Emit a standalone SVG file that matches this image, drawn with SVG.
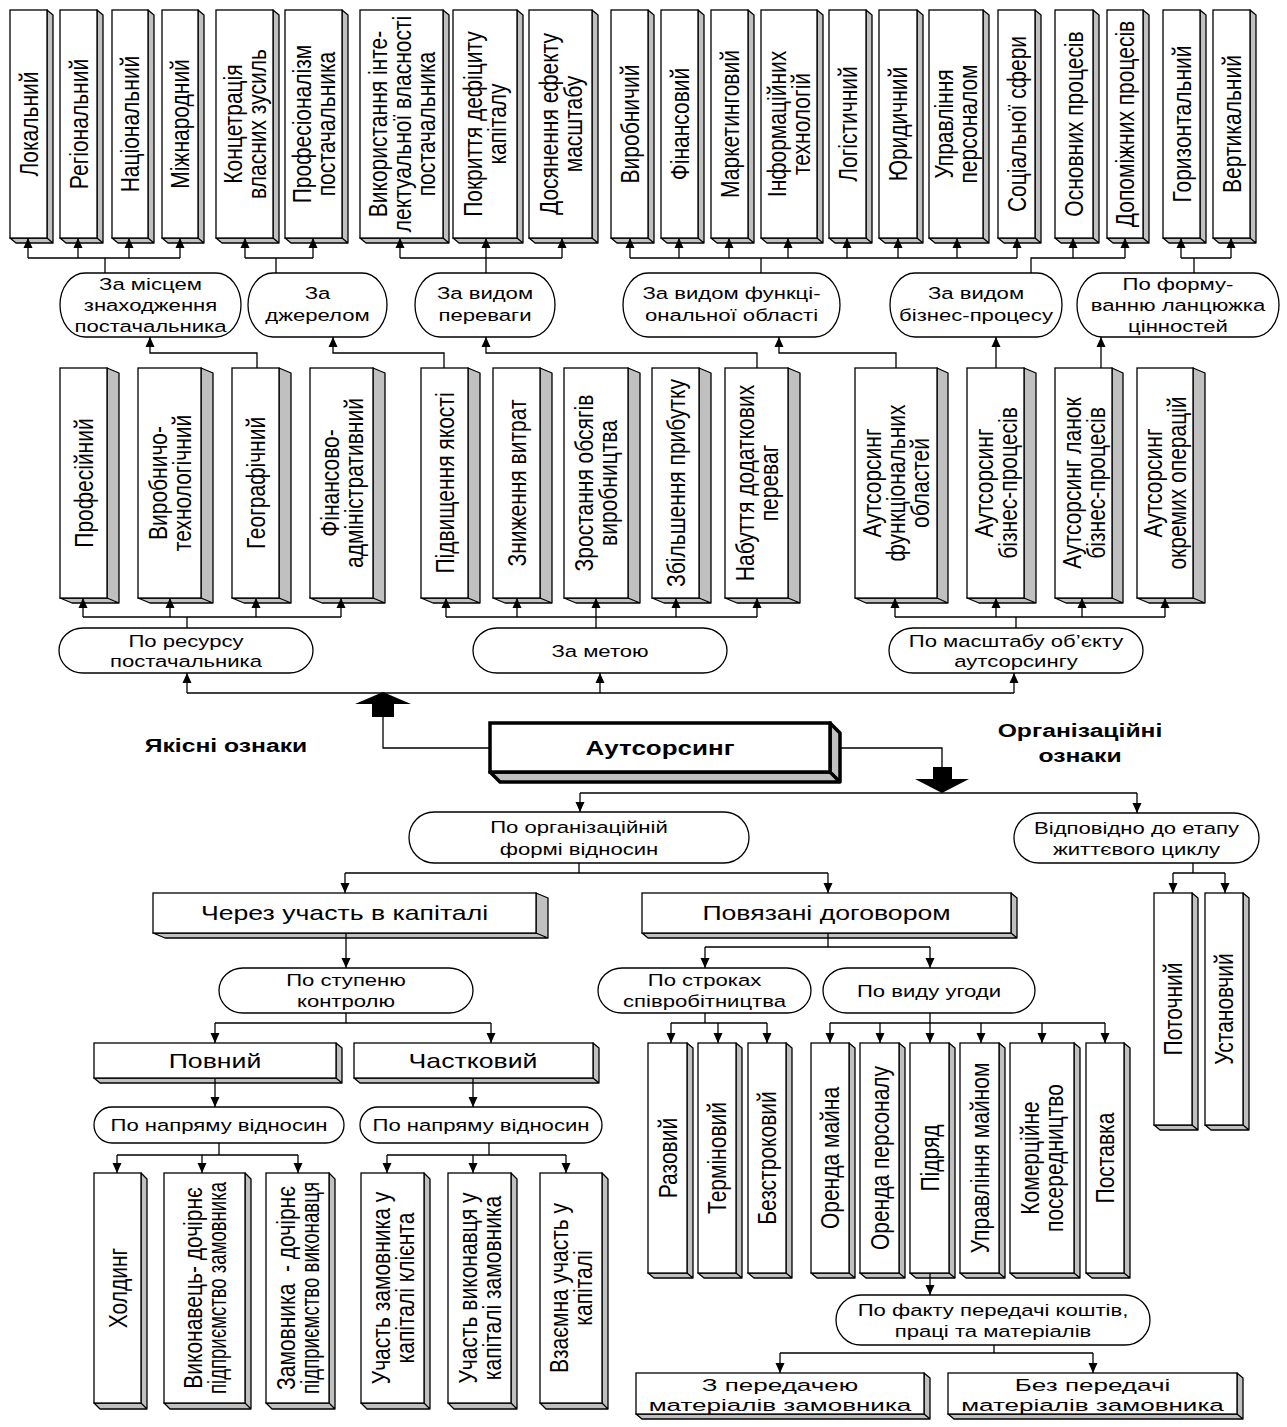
<svg xmlns="http://www.w3.org/2000/svg" width="1287" height="1427" viewBox="0 0 1287 1427">
<defs>
<marker id="ah" viewBox="0 0 10 10" refX="10" refY="5" markerWidth="10" markerHeight="10" markerUnits="userSpaceOnUse" orient="auto"><path d="M0,0.5L10,5L0,9.5z" fill="#000"/></marker>
<style>
.f{fill:#fff;stroke:#000;stroke-width:1.3}
.g{fill:#c0c0c0;stroke:#000;stroke-width:1.3;stroke-linejoin:round}
.e{fill:#fff;stroke:#000;stroke-width:1.3}
.c{fill:none;stroke:#000;stroke-width:1.3}
.a{marker-end:url(#ah)}
text{font-family:"Liberation Sans",Arial,sans-serif;fill:#000}
.r{font-size:21px;text-anchor:middle}
.h{text-anchor:middle;font-size:17px}
.b{text-anchor:middle;font-size:20.5px}
.bb{text-anchor:middle;font-size:19px;font-weight:bold}
.m{text-anchor:middle;font-size:16.8px}
</style>
</defs>
<rect width="1287" height="1427" fill="#fff"/>

<!-- TOP ROW -->
<g id="n-lokalnyi"><path class="g" d="M47,238v-228l6,5v228h-37l-6,-5zl6,5"/><rect class="f" x="10" y="10" width="37" height="228"/><g transform="translate(28.5,124) scale(1.2,1) rotate(-90)"><text class="r" y="7.6">Локальний</text></g></g>
<g id="n-regionalnyi"><path class="g" d="M97,238v-228l6,5v228h-37l-6,-5zl6,5"/><rect class="f" x="60" y="10" width="37" height="228"/><g transform="translate(78.5,124) scale(1.2,1) rotate(-90)"><text class="r" y="7.6">Регіональний</text></g></g>
<g id="n-natsionalnyi"><path class="g" d="M148,238v-228l6,5v228h-36l-6,-5zl6,5"/><rect class="f" x="112" y="10" width="36" height="228"/><g transform="translate(130,124) scale(1.2,1) rotate(-90)"><text class="r" y="7.6">Національний</text></g></g>
<g id="n-mizhnarodnyi"><path class="g" d="M198,238v-228l6,5v228h-36l-6,-5zl6,5"/><rect class="f" x="162" y="10" width="36" height="228"/><g transform="translate(180,124) scale(1.2,1) rotate(-90)"><text class="r" y="7.6">Міжнародний</text></g></g>
<g id="n-kontsentratsiia"><path class="g" d="M273,238v-228l6,5v228h-57l-6,-5zl6,5"/><rect class="f" x="216" y="10" width="57" height="228"/><g transform="translate(244.5,124) scale(1.2,1) rotate(-90)"><text class="r"><tspan x="0" y="-2.4">Концетрація</tspan><tspan x="0" y="17.6">власних зусиль</tspan></text></g></g>
<g id="n-profesionalizm"><path class="g" d="M342,238v-228l6,5v228h-57l-6,-5zl6,5"/><rect class="f" x="285" y="10" width="57" height="228"/><g transform="translate(313.5,124) scale(1.2,1) rotate(-90)"><text class="r"><tspan x="0" y="-2.4">Професіоналізм</tspan><tspan x="0" y="17.6">постачальника</tspan></text></g></g>
<g id="n-intelekt"><path class="g" d="M443,238v-228l6,5v228h-83l-6,-5zl6,5"/><rect class="f" x="360" y="10" width="83" height="228"/><g transform="translate(401.5,124) scale(1.2,1) rotate(-90)"><text class="r"><tspan x="0" y="-12.4">Використання інте-</tspan><tspan x="0" y="7.6">лектуальної власності</tspan><tspan x="0" y="27.6">постачальника</tspan></text></g></g>
<g id="n-pokryttia"><path class="g" d="M517,238v-228l6,5v228h-64l-6,-5zl6,5"/><rect class="f" x="453" y="10" width="64" height="228"/><g transform="translate(485,124) scale(1.2,1) rotate(-90)"><text class="r"><tspan x="0" y="-2.4">Покриття дефіциту</tspan><tspan x="0" y="17.6">капіталу</tspan></text></g></g>
<g id="n-masshtab"><path class="g" d="M592,238v-228l6,5v228h-63l-6,-5zl6,5"/><rect class="f" x="529" y="10" width="63" height="228"/><g transform="translate(560.5,124) scale(1.2,1) rotate(-90)"><text class="r"><tspan x="0" y="-2.4">Досянення ефекту</tspan><tspan x="0" y="17.6">масштабу</tspan></text></g></g>
<g id="n-vyrobnychyi"><path class="g" d="M648,238v-228l6,5v228h-37l-6,-5zl6,5"/><rect class="f" x="611" y="10" width="37" height="228"/><g transform="translate(629.5,124) scale(1.2,1) rotate(-90)"><text class="r" y="7.6">Виробничий</text></g></g>
<g id="n-finansovyi"><path class="g" d="M698,238v-228l6,5v228h-37l-6,-5zl6,5"/><rect class="f" x="661" y="10" width="37" height="228"/><g transform="translate(679.5,124) scale(1.2,1) rotate(-90)"><text class="r" y="7.6">Фінансовий</text></g></g>
<g id="n-marketynhovyi"><path class="g" d="M748,238v-228l6,5v228h-37l-6,-5zl6,5"/><rect class="f" x="711" y="10" width="37" height="228"/><g transform="translate(729.5,124) scale(1.2,1) rotate(-90)"><text class="r" y="7.6">Маркетинговий</text></g></g>
<g id="n-it"><path class="g" d="M817,238v-228l6,5v228h-56l-6,-5zl6,5"/><rect class="f" x="761" y="10" width="56" height="228"/><g transform="translate(789,124) scale(1.2,1) rotate(-90)"><text class="r"><tspan x="0" y="-2.4">Інформаційних</tspan><tspan x="0" y="17.6">технологій</tspan></text></g></g>
<g id="n-lohistychnyi"><path class="g" d="M866,238v-228l6,5v228h-37l-6,-5zl6,5"/><rect class="f" x="829" y="10" width="37" height="228"/><g transform="translate(847.5,124) scale(1.2,1) rotate(-90)"><text class="r" y="7.6">Логістичний</text></g></g>
<g id="n-yurydychnyi"><path class="g" d="M917,238v-228l6,5v228h-38l-6,-5zl6,5"/><rect class="f" x="879" y="10" width="38" height="228"/><g transform="translate(898,124) scale(1.2,1) rotate(-90)"><text class="r" y="7.6">Юридичний</text></g></g>
<g id="n-personal"><path class="g" d="M983,238v-228l6,5v228h-54l-6,-5zl6,5"/><rect class="f" x="929" y="10" width="54" height="228"/><g transform="translate(956,124) scale(1.2,1) rotate(-90)"><text class="r"><tspan x="0" y="-2.4">Управління</tspan><tspan x="0" y="17.6">персоналом</tspan></text></g></g>
<g id="n-sotsialna"><path class="g" d="M1035,238v-228l6,5v228h-37l-6,-5zl6,5"/><rect class="f" x="998" y="10" width="37" height="228"/><g transform="translate(1016.5,124) scale(1.2,1) rotate(-90)"><text class="r" y="7.6">Соціальної сфери</text></g></g>
<g id="n-osnovni"><path class="g" d="M1093,238v-228l6,5v228h-38l-6,-5zl6,5"/><rect class="f" x="1055" y="10" width="38" height="228"/><g transform="translate(1074,124) scale(1.2,1) rotate(-90)"><text class="r" y="7.6">Основних процесів</text></g></g>
<g id="n-dopomizhni"><path class="g" d="M1143,238v-228l6,5v228h-36l-6,-5zl6,5"/><rect class="f" x="1107" y="10" width="36" height="228"/><g transform="translate(1125,124) scale(1.2,1) rotate(-90)"><text class="r" y="7.6">Допоміжних процесів</text></g></g>
<g id="n-horyzontalnyi"><path class="g" d="M1200,238v-228l6,5v228h-37l-6,-5zl6,5"/><rect class="f" x="1163" y="10" width="37" height="228"/><g transform="translate(1181.5,124) scale(1.2,1) rotate(-90)"><text class="r" y="7.6">Горизонтальний</text></g></g>
<g id="n-vertykalnyi"><path class="g" d="M1250,238v-228l6,5v228h-37l-6,-5zl6,5"/><rect class="f" x="1213" y="10" width="37" height="228"/><g transform="translate(1231.5,124) scale(1.2,1) rotate(-90)"><text class="r" y="7.6">Вертикальний</text></g></g>

<!-- TOP ELLIPSES -->
<g id="e-mistse"><rect class="e" x="60" y="273" width="181" height="64" rx="25" ry="32"/><text class="h" transform="translate(150.5,0) scale(1.3,1)"><tspan x="0" y="290">За місцем</tspan><tspan x="0" y="311">знаходження</tspan><tspan x="0" y="332">постачальника</tspan></text></g>
<g id="e-dzherelo"><rect class="e" x="248" y="273" width="139" height="64" rx="25" ry="32"/><text class="h" transform="translate(317.5,0) scale(1.3,1)"><tspan x="0" y="299">За</tspan><tspan x="0" y="321">джерелом</tspan></text></g>
<g id="e-perevaha"><rect class="e" x="415" y="273" width="140" height="64" rx="25" ry="32"/><text class="h" transform="translate(485,0) scale(1.3,1)"><tspan x="0" y="299">За видом</tspan><tspan x="0" y="321">переваги</tspan></text></g>
<g id="e-funktsii"><rect class="e" x="623" y="273" width="217" height="64" rx="25" ry="32"/><text class="h" transform="translate(731.5,0) scale(1.3,1)"><tspan x="0" y="299">За видом функці-</tspan><tspan x="0" y="321">ональної області</tspan></text></g>
<g id="e-biznes"><rect class="e" x="890" y="273" width="172" height="64" rx="25" ry="32"/><text class="h" transform="translate(976,0) scale(1.3,1)"><tspan x="0" y="299">За видом</tspan><tspan x="0" y="321">бізнес-процесу</tspan></text></g>
<g id="e-lantsiuzhok"><rect class="e" x="1077" y="273" width="202" height="64" rx="25" ry="32"/><text class="h" transform="translate(1178,0) scale(1.3,1)"><tspan x="0" y="290">По форму-</tspan><tspan x="0" y="311">ванню ланцюжка</tspan><tspan x="0" y="332">цінностей</tspan></text></g>

<!-- MIDDLE ROW -->
<g id="n-profesiinyi"><path class="g" d="M107,598v-230l12,5v230h-47l-12,-5zl12,5"/><rect class="f" x="60" y="368" width="47" height="230"/><g transform="translate(83.5,483) scale(1.2,1) rotate(-90)"><text class="r" y="7.6">Професійний</text></g></g>
<g id="n-vyrobnycho"><path class="g" d="M201,598v-230l12,5v230h-63l-12,-5zl12,5"/><rect class="f" x="138" y="368" width="63" height="230"/><g transform="translate(169.5,483) scale(1.2,1) rotate(-90)"><text class="r"><tspan x="0" y="-2.4">Виробничо-</tspan><tspan x="0" y="17.6">технологічний</tspan></text></g></g>
<g id="n-heohrafichnyi"><path class="g" d="M279,598v-230l12,5v230h-47l-12,-5zl12,5"/><rect class="f" x="232" y="368" width="47" height="230"/><g transform="translate(255.5,483) scale(1.2,1) rotate(-90)"><text class="r" y="7.6">Географічний</text></g></g>
<g id="n-finadmin"><path class="g" d="M373,598v-230l12,5v230h-63l-12,-5zl12,5"/><rect class="f" x="310" y="368" width="63" height="230"/><g transform="translate(341.5,483) scale(1.2,1) rotate(-90)"><text class="r"><tspan x="0" y="-2.4">Фінансово-</tspan><tspan x="0" y="17.6">адміністративний</tspan></text></g></g>
<g id="n-yakist"><path class="g" d="M468,598v-230l12,5v230h-47l-12,-5zl12,5"/><rect class="f" x="421" y="368" width="47" height="230"/><g transform="translate(444.5,483) scale(1.2,1) rotate(-90)"><text class="r" y="7.6">Підвищення якості</text></g></g>
<g id="n-vytraty"><path class="g" d="M540,598v-230l12,5v230h-47l-12,-5zl12,5"/><rect class="f" x="493" y="368" width="47" height="230"/><g transform="translate(516.5,483) scale(1.2,1) rotate(-90)"><text class="r" y="7.6">Зниження витрат</text></g></g>
<g id="n-obsiahy"><path class="g" d="M628,598v-230l12,5v230h-64l-12,-5zl12,5"/><rect class="f" x="564" y="368" width="64" height="230"/><g transform="translate(596,483) scale(1.2,1) rotate(-90)"><text class="r"><tspan x="0" y="-2.4">Зростання обсягів</tspan><tspan x="0" y="17.6">виробництва</tspan></text></g></g>
<g id="n-prybutok"><path class="g" d="M699,598v-230l12,5v230h-47l-12,-5zl12,5"/><rect class="f" x="652" y="368" width="47" height="230"/><g transform="translate(675.5,483) scale(1.2,1) rotate(-90)"><text class="r" y="7.6">Збільшення прибутку</text></g></g>
<g id="n-perevahy"><path class="g" d="M788,598v-230l12,5v230h-63l-12,-5zl12,5"/><rect class="f" x="725" y="368" width="63" height="230"/><g transform="translate(756.5,483) scale(1.2,1) rotate(-90)"><text class="r"><tspan x="0" y="-2.4">Набуття додаткових</tspan><tspan x="0" y="17.6">переваг</tspan></text></g></g>
<g id="n-aut-funkts"><path class="g" d="M937,598v-230l11,5v230h-82l-11,-5zl11,5"/><rect class="f" x="855" y="368" width="82" height="230"/><g transform="translate(896,483) scale(1.2,1) rotate(-90)"><text class="r"><tspan x="0" y="-12.4">Аутсорсинг</tspan><tspan x="0" y="7.6">функціональних</tspan><tspan x="0" y="27.6">областей</tspan></text></g></g>
<g id="n-aut-biznes"><path class="g" d="M1024,598v-230l12,5v230h-57l-12,-5zl12,5"/><rect class="f" x="967" y="368" width="57" height="230"/><g transform="translate(995.5,483) scale(1.2,1) rotate(-90)"><text class="r"><tspan x="0" y="-2.4">Аутсорсинг</tspan><tspan x="0" y="17.6">бізнес-процесів</tspan></text></g></g>
<g id="n-aut-lanky"><path class="g" d="M1112,598v-230l11,5v230h-57l-11,-5zl11,5"/><rect class="f" x="1055" y="368" width="57" height="230"/><g transform="translate(1083.5,483) scale(1.2,1) rotate(-90)"><text class="r"><tspan x="0" y="-2.4">Аутсорсинг ланок</tspan><tspan x="0" y="17.6">бізнес-процесів</tspan></text></g></g>
<g id="n-aut-operatsii"><path class="g" d="M1193,598v-230l12,5v230h-56l-12,-5zl12,5"/><rect class="f" x="1137" y="368" width="56" height="230"/><g transform="translate(1165,483) scale(1.2,1) rotate(-90)"><text class="r"><tspan x="0" y="-2.4">Аутсорсинг</tspan><tspan x="0" y="17.6">окремих операцій</tspan></text></g></g>

<!-- MIDDLE ELLIPSES -->
<g id="e-resurs"><rect class="e" x="59" y="628" width="254" height="45" rx="24" ry="22.5"/><text class="h" transform="translate(186,0) scale(1.3,1)"><tspan x="0" y="647">По ресурсу</tspan><tspan x="0" y="667">постачальника</tspan></text></g>
<g id="e-meta"><rect class="e" x="473" y="628" width="254" height="45" rx="24" ry="22.5"/><text class="h" transform="translate(600,0) scale(1.3,1)"><tspan x="0" y="657">За метою</tspan></text></g>
<g id="e-masshtab"><rect class="e" x="889" y="628" width="254" height="45" rx="24" ry="22.5"/><text class="h" transform="translate(1016,0) scale(1.3,1)"><tspan x="0" y="647">По масштабу об’єкту</tspan><tspan x="0" y="667">аутсорсингу</tspan></text></g>

<!-- CENTER -->
<g id="n-autsorsynh"><path class="g" style="stroke-width:3.5" d="M830,772v-49l10,10v49h-340l-10,-10zl10,10"/><rect class="f" style="stroke-width:3.5" x="490" y="723" width="340" height="49"/><text class="bb" style="font-size:20px" transform="translate(660,0) scale(1.3,1)" y="755">Аутсорсинг</text></g>
<g id="l-yakisni"><text class="bb" transform="translate(226,0) scale(1.3,1)" y="752">Якісні ознаки</text></g>
<g id="l-orhanizatsiini"><text class="bb" transform="translate(1080,0) scale(1.3,1)"><tspan x="0" y="737">Організаційні</tspan><tspan x="0" y="762">ознаки</tspan></text></g>
<g id="blk-up"><polygon points="372,717 372,704 355,704 383,692 411,704 394,704 394,717" fill="#000"/></g>
<g id="blk-down"><polygon points="933,767 952,767 952,779 969,779 942,793 915,779 933,779" fill="#000"/></g>

<!-- LOWER ELLIPSES -->
<g id="e-orhforma"><rect class="e" x="409" y="812" width="340" height="51" rx="25" ry="25.5"/><text class="h" transform="translate(579,0) scale(1.3,1)"><tspan x="0" y="833">По організаційній</tspan><tspan x="0" y="855">формі відносин</tspan></text></g>
<g id="e-etap"><rect class="e" x="1014" y="813" width="245" height="50" rx="25" ry="25"/><text class="h" transform="translate(1136.5,0) scale(1.3,1)"><tspan x="0" y="834">Відповідно до етапу</tspan><tspan x="0" y="855">життєвого циклу</tspan></text></g>

<g id="n-kapital"><path class="g" d="M536,933v-40l12,5v40h-383l-12,-5zl12,5"/><rect class="f" x="153" y="893" width="383" height="40"/><text class="b" transform="translate(344.5,0) scale(1.3,1)" y="920">Через участь в капіталі</text></g>
<g id="n-dohovir"><path class="g" d="M1011,933v-40l6,5v40h-369l-6,-5zl6,5"/><rect class="f" x="642" y="893" width="369" height="40"/><text class="b" transform="translate(826.5,0) scale(1.3,1)" y="920">Повязані договором</text></g>

<g id="n-potochnyi"><path class="g" d="M1192,1125v-232l6,5v232h-38l-6,-5zl6,5"/><rect class="f" x="1154" y="893" width="38" height="232"/><g transform="translate(1173,1009) scale(1.2,1) rotate(-90)"><text class="r" y="7.6">Поточний</text></g></g>
<g id="n-ustanovchyi"><path class="g" d="M1243,1125v-232l6,5v232h-38l-6,-5zl6,5"/><rect class="f" x="1205" y="893" width="38" height="232"/><g transform="translate(1224,1009) scale(1.2,1) rotate(-90)"><text class="r" y="7.6">Установчий</text></g></g>

<g id="e-stupin"><rect class="e" x="219" y="968" width="254" height="45" rx="24" ry="22.5"/><text class="h" transform="translate(346,0) scale(1.3,1)"><tspan x="0" y="986">По ступеню</tspan><tspan x="0" y="1007">контролю</tspan></text></g>
<g id="e-stroky"><rect class="e" x="598" y="968" width="213" height="45" rx="24" ry="22.5"/><text class="h" transform="translate(704.5,0) scale(1.3,1)"><tspan x="0" y="986">По строках</tspan><tspan x="0" y="1007">співробітництва</tspan></text></g>
<g id="e-uhoda"><rect class="e" x="823" y="968" width="212" height="45" rx="24" ry="22.5"/><text class="h" transform="translate(929,0) scale(1.3,1)" y="997">По виду угоди</text></g>

<g id="n-povnyi"><path class="g" d="M336,1078v-35l6,5v35h-242l-6,-5zl6,5"/><rect class="f" x="94" y="1043" width="242" height="35"/><text class="b" transform="translate(215,0) scale(1.3,1)" y="1068">Повний</text></g>
<g id="n-chastkovyi"><path class="g" d="M593,1078v-35l6,5v35h-239l-6,-5zl6,5"/><rect class="f" x="354" y="1043" width="239" height="35"/><text class="b" transform="translate(473,0) scale(1.3,1)" y="1068">Частковий</text></g>

<g id="e-napriam1"><rect class="e" x="94" y="1107" width="250" height="36" rx="18" ry="18"/><text class="h" transform="translate(219,0) scale(1.3,1)" y="1131">По напряму відносин</text></g>
<g id="e-napriam2"><rect class="e" x="360" y="1107" width="242" height="36" rx="18" ry="18"/><text class="h" transform="translate(481,0) scale(1.3,1)" y="1131">По напряму відносин</text></g>

<!-- BOTTOM LEFT -->
<g id="n-kholdynh"><path class="g" d="M141,1403v-230l6,6v230h-47l-6,-6zl6,6"/><rect class="f" x="94" y="1173" width="47" height="230"/><g transform="translate(117.5,1288) scale(1.2,1) rotate(-90)"><text class="r" y="7.6">Холдинг</text></g></g>
<g id="n-vykonavets"><path class="g" d="M245,1403v-230l6,6v230h-81l-6,-6zl6,6"/><rect class="f" x="164" y="1173" width="81" height="230"/><g transform="translate(204.5,1288) scale(1.2,1) rotate(-90)"><text class="r" x="0" y="-2.4">Виконавець- дочірнє</text><text class="r" x="0" y="17.6" textLength="212" lengthAdjust="spacingAndGlyphs">підприємство замовника</text></g></g>
<g id="n-zamovnyk"><path class="g" d="M329,1403v-230l6,6v230h-63l-6,-6zl6,6"/><rect class="f" x="266" y="1173" width="63" height="230"/><g transform="translate(297.5,1288) scale(1.2,1) rotate(-90)"><text class="r" x="0" y="-2.4" xml:space="preserve">Замовника  - дочірнє</text><text class="r" x="0" y="17.6" textLength="212" lengthAdjust="spacingAndGlyphs">підприємство виконавця</text></g></g>
<g id="n-uchast1"><path class="g" d="M424,1403v-230l6,6v230h-63l-6,-6zl6,6"/><rect class="f" x="361" y="1173" width="63" height="230"/><g transform="translate(392.5,1288) scale(1.2,1) rotate(-90)"><text class="r"><tspan x="0" y="-2.4">Участь замовника у</tspan><tspan x="0" y="17.6">капіталі клієнта</tspan></text></g></g>
<g id="n-uchast2"><path class="g" d="M511,1403v-230l6,6v230h-63l-6,-6zl6,6"/><rect class="f" x="448" y="1173" width="63" height="230"/><g transform="translate(479.5,1288) scale(1.2,1) rotate(-90)"><text class="r"><tspan x="0" y="-2.4">Участь виконавця у</tspan><tspan x="0" y="17.6">капіталі замовника</tspan></text></g></g>
<g id="n-vzaiemna"><path class="g" d="M602,1403v-230l6,6v230h-62l-6,-6zl6,6"/><rect class="f" x="540" y="1173" width="62" height="230"/><g transform="translate(571,1288) scale(1.2,1) rotate(-90)"><text class="r"><tspan x="0" y="-2.4">Взаємна участь у</tspan><tspan x="0" y="17.6">капіталі</tspan></text></g></g>

<!-- BOTTOM RIGHT -->
<g id="n-razovyi"><path class="g" d="M687,1273v-230l6,5v230h-39l-6,-5zl6,5"/><rect class="f" x="648" y="1043" width="39" height="230"/><g transform="translate(667.5,1158) scale(1.2,1) rotate(-90)"><text class="r" y="7.6">Разовий</text></g></g>
<g id="n-terminovyi"><path class="g" d="M736,1273v-230l6,5v230h-38l-6,-5zl6,5"/><rect class="f" x="698" y="1043" width="38" height="230"/><g transform="translate(717,1158) scale(1.2,1) rotate(-90)"><text class="r" y="7.6">Терміновий</text></g></g>
<g id="n-bezstrokovyi"><path class="g" d="M786,1273v-230l6,5v230h-38l-6,-5zl6,5"/><rect class="f" x="748" y="1043" width="38" height="230"/><g transform="translate(767,1158) scale(1.2,1) rotate(-90)"><text class="r" y="7.6">Безстроковий</text></g></g>
<g id="n-orenda-maina"><path class="g" d="M849,1273v-230l6,5v230h-38l-6,-5zl6,5"/><rect class="f" x="811" y="1043" width="38" height="230"/><g transform="translate(830,1158) scale(1.2,1) rotate(-90)"><text class="r" y="7.6">Оренда майна</text></g></g>
<g id="n-orenda-personalu"><path class="g" d="M899,1273v-230l6,5v230h-39l-6,-5zl6,5"/><rect class="f" x="860" y="1043" width="39" height="230"/><g transform="translate(879.5,1158) scale(1.2,1) rotate(-90)"><text class="r" y="7.6">Оренда персоналу</text></g></g>
<g id="n-pidriad"><path class="g" d="M949,1273v-230l6,5v230h-39l-6,-5zl6,5"/><rect class="f" x="910" y="1043" width="39" height="230"/><g transform="translate(929.5,1158) scale(1.2,1) rotate(-90)"><text class="r" y="7.6">Підряд</text></g></g>
<g id="n-upravlinnia"><path class="g" d="M999,1273v-230l6,5v230h-39l-6,-5zl6,5"/><rect class="f" x="960" y="1043" width="39" height="230"/><g transform="translate(979.5,1158) scale(1.2,1) rotate(-90)"><text class="r" y="7.6">Управління майном</text></g></g>
<g id="n-komertsiine"><path class="g" d="M1074,1273v-230l6,5v230h-64l-6,-5zl6,5"/><rect class="f" x="1010" y="1043" width="64" height="230"/><g transform="translate(1042,1158) scale(1.2,1) rotate(-90)"><text class="r"><tspan x="0" y="-2.4">Комерційне</tspan><tspan x="0" y="17.6">посередництво</tspan></text></g></g>
<g id="n-postavka"><path class="g" d="M1124,1273v-230l6,5v230h-38l-6,-5zl6,5"/><rect class="f" x="1086" y="1043" width="38" height="230"/><g transform="translate(1105,1158) scale(1.2,1) rotate(-90)"><text class="r" y="7.6">Поставка</text></g></g>

<g id="e-fakt"><rect class="e" x="836" y="1295" width="314" height="50" rx="25" ry="25"/><text class="h" transform="translate(993,0) scale(1.3,1)"><tspan x="0" y="1316">По факту передачі коштів,</tspan><tspan x="0" y="1337">праці та матеріалів</tspan></text></g>
<g id="n-z-peredacheiu"><path class="g" d="M924,1414v-41l6,5v41h-288l-6,-5zl6,5"/><rect class="f" x="636" y="1373" width="288" height="41"/><text class="m" transform="translate(780,0) scale(1.55,1)" y="1391.5">З передачею</text><text class="m" transform="translate(780,0) scale(1.55,1)" y="1411">матеріалів замовника</text></g>
<g id="n-bez-peredachi"><path class="g" d="M1237,1414v-41l6,5v41h-289l-6,-5zl6,5"/><rect class="f" x="948" y="1373" width="289" height="41"/><text class="m" transform="translate(1092.5,0) scale(1.55,1)" y="1391.5">Без передачі</text><text class="m" transform="translate(1092.5,0) scale(1.55,1)" y="1411">матеріалів замовника</text></g>

<!-- CONNECTORS -->
<g id="connectors">
<path class="c" d="M105,273V258M28,258H180M276,273V258M245,258H313M486,273V258M400,258H562M761,273V258M630,258H1017M1031,273V258H1125M1194,273V258M1181,258H1231"/>
<path class="c a" d="M28,258V238"/><path class="c a" d="M78,258V238"/><path class="c a" d="M129,258V238"/><path class="c a" d="M180,258V238"/>
<path class="c a" d="M245,258V238"/><path class="c a" d="M313,258V238"/>
<path class="c a" d="M400,258V238"/><path class="c a" d="M486,258V238"/><path class="c a" d="M562,258V238"/>
<path class="c a" d="M630,258V238"/><path class="c a" d="M679,258V238"/><path class="c a" d="M729,258V238"/><path class="c a" d="M788,258V238"/><path class="c a" d="M847,258V238"/><path class="c a" d="M898,258V238"/><path class="c a" d="M957,258V238"/><path class="c a" d="M1017,258V238"/>
<path class="c a" d="M1073,258V238"/><path class="c a" d="M1125,258V238"/>
<path class="c a" d="M1181,258V238"/><path class="c a" d="M1231,258V238"/>

<path class="c a" d="M257,368V353H150V337"/>
<path class="c a" d="M444,368V353H333V337"/>
<path class="c a" d="M757,368V353H486V337"/>
<path class="c a" d="M896,368V353H779V337"/>
<path class="c a" d="M996,368V337"/>
<path class="c a" d="M1101,368V337"/>

<path class="c" d="M187,628V617M83,617H341M596,628V617M446,617H757M1016,628V617M895,617H1165"/>
<path class="c a" d="M83,617V598"/><path class="c a" d="M170,617V598"/><path class="c a" d="M256,617V598"/><path class="c a" d="M341,617V598"/>
<path class="c a" d="M446,617V598"/><path class="c a" d="M517,617V598"/><path class="c a" d="M596,617V598"/><path class="c a" d="M676,617V598"/><path class="c a" d="M757,617V598"/>
<path class="c a" d="M895,617V598"/><path class="c a" d="M996,617V598"/><path class="c a" d="M1082,617V598"/><path class="c a" d="M1165,617V598"/>

<path class="c" d="M187,693H1014"/>
<path class="c a" d="M187,693V673"/><path class="c a" d="M600,693V673"/><path class="c a" d="M1014,693V673"/>
<path class="c" d="M383,717V748H490M840,748H942V767"/>

<path class="c" d="M580,793H1137"/>
<path class="c a" d="M580,793V812"/><path class="c a" d="M1137,793V813"/>
<path class="c" d="M579,863V873M345,873H828"/>
<path class="c a" d="M345,873V893"/><path class="c a" d="M828,873V893"/>
<path class="c a" d="M346,933V968"/>
<path class="c" d="M346,1013V1023M215,1023H491"/>
<path class="c a" d="M215,1023V1043"/><path class="c a" d="M491,1023V1043"/>
<path class="c a" d="M215,1078V1107"/><path class="c a" d="M473,1078V1107"/>
<path class="c" d="M219,1143V1155M117,1155H298M489,1143V1155M387,1155H566"/>
<path class="c a" d="M117,1155V1173"/><path class="c a" d="M202,1155V1173"/><path class="c a" d="M298,1155V1173"/>
<path class="c a" d="M387,1155V1173"/><path class="c a" d="M473,1155V1173"/><path class="c a" d="M566,1155V1173"/>
<path class="c" d="M828,933V947M705,947H930"/>
<path class="c a" d="M705,947V968"/><path class="c a" d="M930,947V968"/>
<path class="c" d="M705,1013V1023M671,1023H767M930,1013V1023M830,1023H1105"/>
<path class="c a" d="M671,1023V1043"/><path class="c a" d="M718,1023V1043"/><path class="c a" d="M767,1023V1043"/>
<path class="c a" d="M830,1023V1043"/><path class="c a" d="M880,1023V1043"/><path class="c a" d="M930,1023V1043"/><path class="c a" d="M981,1023V1043"/><path class="c a" d="M1042,1023V1043"/><path class="c a" d="M1105,1023V1043"/>
<path class="c a" d="M930,1273V1295"/>
<path class="c" d="M994,1345V1353M780,1353H1093"/>
<path class="c a" d="M780,1353V1373"/><path class="c a" d="M1093,1353V1373"/>
<path class="c" d="M1193,863V873M1173,873H1225"/>
<path class="c a" d="M1173,873V893"/><path class="c a" d="M1225,873V893"/>
</g>
</svg>
